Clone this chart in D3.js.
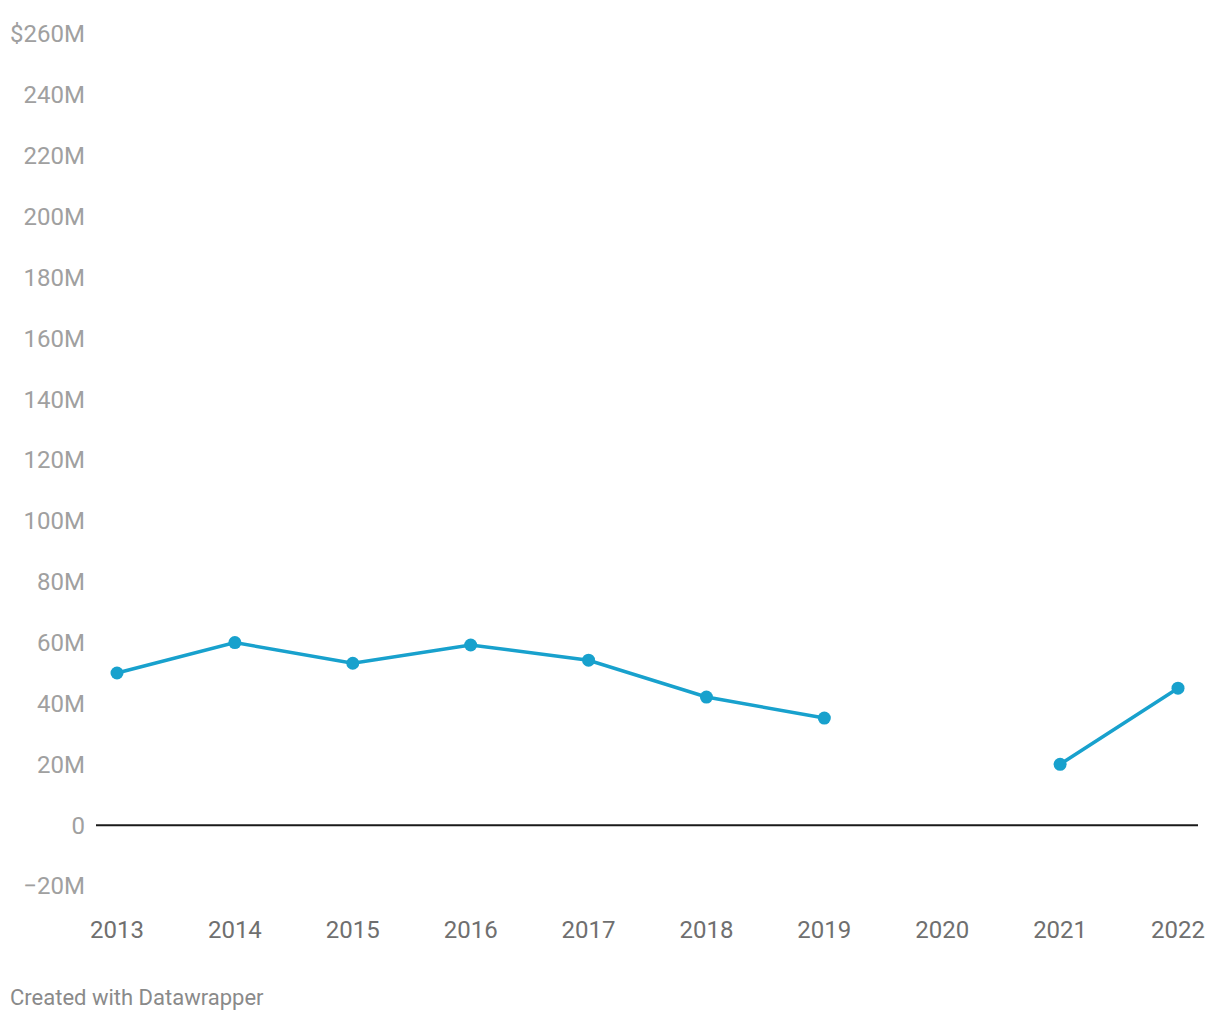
<!DOCTYPE html>
<html><head><meta charset="utf-8">
<script src="https://cdn.jsdelivr.net/npm/d3@7"></script>
<style>body{margin:0;background:#fff;font-family:Roboto,sans-serif;}</style>
</head><body>
<svg id="chart" width="1220" height="1020"></svg>
<script>
const years = [2013,2014,2015,2016,2017,2018,2019,2020,2021,2022];
const values = [50,60,53.2,59.2,54.2,42.1,35.2,null,20,45];
const yTicks = [-20,0,20,40,60,80,100,120,140,160,180,200,220,240,260];

const svg = d3.select("#chart");
const x = d3.scalePoint().domain(years).range([117,1178]);
const y = d3.scaleLinear().domain([-20,260]).range([886,34]);

// y labels
svg.append("g").selectAll("text").data(yTicks).join("text")
  .attr("x",85).attr("y",d=>y(d)).attr("dy","0.35em")
  .attr("text-anchor","end").attr("fill","#a0a0a0")
  .style("font-size","24px")
  .text(d=> d===260 ? "$260M" : d===0 ? "0" : (d<0 ? "\u2212"+Math.abs(d)+"M" : d+"M"));

// zero line
svg.append("line").attr("x1",96).attr("x2",1198).attr("y1",y(0)).attr("y2",y(0))
  .attr("stroke","#1a1a1a").attr("stroke-width",2);

// x labels
svg.append("g").selectAll("text").data(years).join("text")
  .attr("x",d=>x(d)).attr("y",930).attr("dy","0.35em")
  .attr("text-anchor","middle").attr("fill","#6f6f6f")
  .style("font-size","24px").text(d=>d);

const data = years.map((yr,i)=>({yr,v:values[i]}));
const line = d3.line().defined(d=>d.v!=null).x(d=>x(d.yr)).y(d=>y(d.v));
svg.append("path").datum(data).attr("d",line).attr("fill","none")
  .attr("stroke","#18a1cd").attr("stroke-width",3.5);
svg.append("g").selectAll("circle").data(data.filter(d=>d.v!=null)).join("circle")
  .attr("cx",d=>x(d.yr)).attr("cy",d=>y(d.v)).attr("r",6.5).attr("fill","#18a1cd");

svg.append("text").attr("x",10).attr("y",997).attr("dy","0.35em")
  .attr("fill","#8a8a8a").style("font-size","22px").text("Created with Datawrapper");
</script>
</body></html>
